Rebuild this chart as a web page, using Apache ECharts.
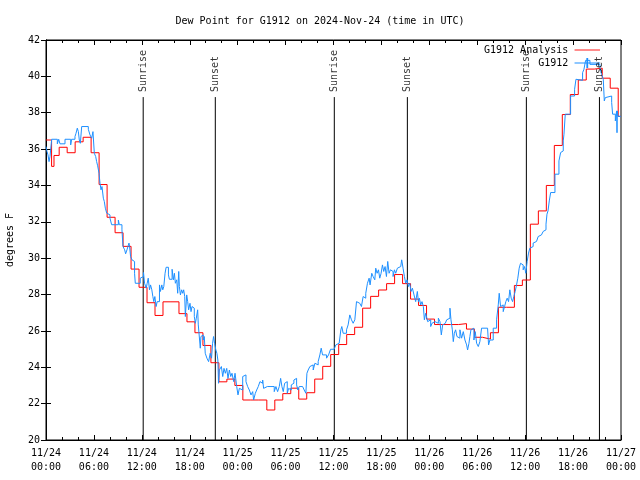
<!DOCTYPE html>
<html><head><meta charset="utf-8">
<script src="https://cdn.jsdelivr.net/npm/echarts@6/dist/echarts.min.js"></script>
<style>html,body{margin:0;padding:0;background:#fff}#c{width:640px;height:480px}</style>
</head><body><div id="c"></div>
<script>
// hours since 2024-11-24 00:00 UTC
const xTickLabels = ['11/24\n00:00','11/24\n06:00','11/24\n12:00','11/24\n18:00','11/25\n00:00','11/25\n06:00','11/25\n12:00','11/25\n18:00','11/26\n00:00','11/26\n06:00','11/26\n12:00','11/26\n18:00','11/27\n00:00'];
const sunTimes = [12.17, 21.2, 36.1, 45.25, 60.15, 69.3];
const sunNames = ['Sunrise','Sunset','Sunrise','Sunset','Sunrise','Sunset'];
const sunLineTop = 38.86;

const analysisHours = [0,0.7,1.0,1.65,2.65,3.65,4.65,5.65,6.65,7.65,8.65,9.65,10.65,11.65,12.65,13.65,14.65,15.65,16.65,17.65,18.65,19.65,20.65,21.65,22.65,23.65,24.65,25.65,26.65,27.65,28.65,29.65,30.65,31.65,32.65,33.65,34.65,35.65,36.65,37.65,38.65,39.65,40.65,41.65,42.65,43.65,44.65,45.65,46.65,47.65,48.65,49.65,50.65,51.65,52.65,53.65,54.65,55.65,56.65,57.65,58.65,59.65,60.65,61.65,62.65,63.65,64.65,65.65,66.65,67.65,68.65,69.65,70.65,71.65,72];
const analysisValues = [36.5,35.05,35.65,36.1,35.8,36.4,36.65,35.8,34.05,32.25,31.4,30.65,29.4,28.4,27.55,26.85,27.6,27.6,26.95,26.5,25.9,25.2,24.25,23.2,23.35,23.0,22.2,22.2,22.2,21.65,22.2,22.55,22.85,22.25,22.6,23.35,24.05,24.7,25.25,25.8,26.2,27.25,27.9,28.25,28.6,29.1,28.6,27.75,27.4,26.65,26.35,26.35,26.35,26.4,26.1,25.65,25.55,25.9,27.3,27.3,28.5,28.8,31.87,32.6,34.0,36.2,37.9,39.0,39.8,40.4,40.45,39.9,39.35,37.8,37.8];

const obsHours = [0,0.13,0.25,0.38,0.5,0.71,1.42,1.59,1.75,2.38,3.09,3.21,3.63,3.76,3.92,4.05,4.17,4.3,4.47,5.3,5.51,5.72,5.88,6.05,6.22,6.34,6.47,6.64,6.76,6.89,7.01,7.18,7.3,7.43,7.6,7.8,8.01,8.22,9.06,9.18,
9.51,9.64,9.85,9.97,10.14,10.26,10.39,10.47,10.59,10.76,10.97,11.09,11.18,11.8,11.92,12.05,12.21,12.34,12.55,12.67,12.8,12.96,13.09,13.25,13.38,13.5,13.63,13.79,13.92,14.21,14.33,14.5,14.62,14.75,14.91,15.04,15.33,15.45,15.79,15.95,16.08,16.2,16.37,16.49,16.62,16.7,16.83,16.99,17.12,17.24,17.37,17.45,17.62,17.74,17.86,18.03,18.16,18.28,18.45,18.57,18.7,18.82,18.99,19.07,19.19,19.32,19.4,19.53,19.69,19.82,19.94,20.02,20.15,20.36,20.44,20.56,20.73,20.86,20.98,21.11,21.27,21.4,21.52,21.6,
21.71,21.79,21.96,22.13,22.29,22.46,22.63,22.79,22.96,23.13,23.29,23.5,23.67,23.88,24.04,24.21,24.42,24.63,24.83,25.04,25.25,25.46,25.67,25.88,26.0,26.21,26.38,26.58,26.79,26.96,27.13,27.25,27.46,27.71,27.96,28.17,28.38,28.58,28.79,29.0,29.21,29.38,29.54,29.71,29.88,30.04,30.21,30.38,30.54,30.71,30.88,31.04,31.21,31.38,31.54,31.71,31.92,32.13,32.33,32.54,32.67,32.83,33.04,33.25,33.46,33.67,33.88,34.08,34.29,34.46,34.63,34.88,35.13,35.38,35.63,35.88,36.08,36.29,36.5,36.71,36.92,37.04,37.21,37.42,37.63,37.83,38.04,38.25,38.46,38.67,38.88,39.08,39.29,39.5,39.71,39.92,40.04,40.25,40.46,40.58,40.79,40.96,41.17,41.29,41.46,41.63,41.79,41.96,42.13,42.29,42.46,42.63,42.79,42.96,43.13,43.29,43.46,43.63,43.79,44.0,44.21,44.42,44.54,44.71,44.88,45.04,45.21,45.38,45.54,45.71,45.88,46.08,46.29,46.5,
46.63,46.75,46.92,47.08,47.25,47.38,47.54,47.67,47.79,48.0,48.17,48.33,48.5,48.71,48.92,49.13,49.33,49.5,49.67,49.83,50.0,50.17,50.38,50.58,50.71,50.88,51.0,51.13,51.29,51.46,51.63,51.83,52.04,52.25,52.46,52.67,52.79,52.96,53.08,53.21,53.38,53.58,53.75,53.92,54.13,54.33,54.54,55.29,55.42,55.58,56.0,56.42,56.63,56.75,56.92,57.08,57.25,57.42,57.58,57.75,57.92,58.08,58.25,58.42,58.58,58.75,58.92,59.08,59.25,59.42,59.58,59.75,59.92,60.08,60.25,60.42,60.58,60.79,61.0,61.21,61.42,61.63,61.83,62.04,62.25,62.46,
62.61,62.73,62.86,63.02,63.19,63.73,64.23,64.44,64.65,64.77,64.86,65.02,65.69,66.19,66.36,66.52,67.19,67.36,67.57,68.11,69.37,69.57,69.78,69.91,70.03,70.12,70.83,70.95,71.29,71.45,71.5,71.54,71.62,72];
const obsValues = [36.14,35.86,35.68,35.31,35.59,36.54,36.29,36.54,36.29,36.54,36.23,36.54,36.69,36.87,37.15,36.96,36.5,36.32,37.24,37.09,36.78,36.6,36.96,35.77,35.59,35.31,35.08,34.67,34.12,33.76,33.94,33.3,33.12,32.75,32.48,32.38,32.2,31.84,32.1,31.84,
31.56,30.64,30.46,30.24,30.46,30.55,30.83,30.64,30.09,29.91,29.82,29.17,28.62,28.9,28.81,28.99,29.21,28.62,28.35,28.62,28.9,28.26,28.53,28.26,27.89,27.61,27.89,27.34,27.61,28.53,28.17,28.53,28.26,28.44,29.17,29.5,29.08,28.84,29.39,28.81,29.17,28.62,28.81,28.07,29.27,28.44,27.98,28.26,28.07,28.26,27.89,26.79,27.98,27.61,27.16,27.52,27.06,27.34,27.25,26.79,26.42,26.7,27.16,26.33,26.42,25.05,25.69,25.78,25.5,25.69,24.77,24.68,24.5,24.31,24.22,24.77,24.5,25.32,25.69,25.32,24.95,24.77,24.4,23.12,
23.85,23.76,24.04,23.49,23.94,23.67,23.94,23.39,23.85,23.49,23.67,23.21,23.67,22.94,22.48,22.84,22.75,23.49,23.58,23.21,22.94,22.75,22.48,22.66,22.2,22.57,22.75,22.94,23.21,23.12,23.3,22.84,22.94,23.03,22.94,23.03,22.94,22.66,22.94,22.66,22.94,23.39,22.94,22.66,23.12,23.21,22.57,22.84,22.75,23.03,23.12,23.3,23.39,23.03,22.75,22.94,22.94,22.84,22.75,22.57,23.67,23.85,24.04,24.13,23.85,24.22,24.13,24.31,24.68,25.05,24.68,24.68,24.5,24.68,24.99,24.99,25.05,25.23,25.32,25.23,26.06,26.24,25.87,25.87,26.06,26.33,26.88,26.61,26.42,26.61,27.61,27.52,27.61,27.34,27.89,27.8,28.07,28.62,28.9,28.53,29.17,28.99,28.81,29.45,29.17,29.36,28.9,29.17,29.63,29.27,29.54,28.99,29.82,29.17,29.36,29.27,28.99,29.36,29.17,29.45,29.54,29.63,29.91,29.45,28.99,28.62,28.81,28.44,28.62,28.17,28.35,27.98,27.61,28.17,
27.61,27.8,27.43,27.61,27.34,26.61,26.97,26.88,26.51,26.61,26.24,26.42,26.51,26.61,26.42,26.7,26.51,25.78,26.33,26.42,26.51,26.61,26.7,27.25,26.61,26.06,25.41,25.87,26.06,25.69,25.6,26.06,25.6,25.96,25.5,25.23,24.95,25.32,25.69,26.06,26.15,25.5,25.96,25.32,25.14,25.41,26.15,26.06,25.23,25.5,26.15,26.61,27.43,28.07,27.34,27.43,27.06,27.34,27.61,27.8,27.61,28.26,27.8,27.61,27.89,28.17,28.53,28.9,29.45,29.72,29.63,29.36,29.54,29.17,29.82,30.28,30.55,30.64,30.83,30.92,31.01,31.19,31.28,31.38,31.47,31.56,
31.87,32.42,32.6,33.15,33.61,34.62,35.35,35.81,35.9,36.45,36.82,37.92,38.92,39.29,39.84,39.78,40.2,40.39,40.88,40.66,40.48,40.11,39.84,38.65,38.83,38.92,38.56,37.92,37.55,38.1,36.9,38.1,37.8,37.8];

function pairs(xs, ys){ return xs.map((x,i)=>[x, ys[i]]); }

const FONT = 'DejaVu Sans Mono';
const chart = echarts.init(document.getElementById('c'), null, {renderer:'canvas'});

const series = [
  { name:'G1912 Analysis', type:'line', step:'end', data: pairs(analysisHours, analysisValues),
    showSymbol:false, symbol:'none', lineStyle:{color:'#ff0000', width:1}, itemStyle:{color:'#ff0000'}, z:3 },
  { name:'G1912', type:'line', step:'end', data: pairs(obsHours, obsValues),
    showSymbol:false, symbol:'none', lineStyle:{color:'#1e90ff', width:1}, itemStyle:{color:'#1e90ff'}, z:4 }
];
sunTimes.forEach((t,i)=>{
  series.push({ type:'line', data:[[t,20],[t,sunLineTop]], showSymbol:false, symbol:'none',
    lineStyle:{color:'#000', width:1}, z:2, silent:true });
  series.push({ type:'scatter', data:[[t,sunLineTop]], symbolSize:0, silent:true, z:5,
    label:{show:true, formatter:sunNames[i], rotate:90, position:'top', distance:5,
      align:'left', verticalAlign:'middle', fontFamily:FONT, fontSize:10, color:'#000'} });
});

const axisCommonX = { type:'value', min:0, max:72, interval:6,
  axisLine:{show:true, lineStyle:{color:'#000', width:1}}, splitLine:{show:false},
  axisTick:{show:true, inside:true, length:5, lineStyle:{color:'#000'}},
  minorTick:{show:true, splitNumber:3, length:3, lineStyle:{color:'#000'}} };
const axisCommonY = { type:'value', min:20, max:42, interval:2,
  axisLine:{show:true, lineStyle:{color:'#000', width:1}}, splitLine:{show:false},
  axisTick:{show:true, inside:true, length:5, lineStyle:{color:'#000'}} };

chart.setOption({
  animation:false,
  backgroundColor:'#fff',
  title:{ text:'Dew Point for G1912 on 2024-Nov-24 (time in UTC)', left:'center', top:11,
    textStyle:{fontFamily:FONT, fontSize:10, fontWeight:'normal', color:'#000'} },
  legend:{ orient:'vertical', right:35, top:40, align:'right', itemWidth:28, itemHeight:10, itemGap:3,
    textStyle:{fontFamily:FONT, fontSize:10, color:'#000'},
    data:[
      {name:'G1912 Analysis', icon:'path://M0,-5 M0,0H28V1H0Z M0,6'},
      {name:'G1912', icon:'path://M0,0H13V-5H15V0H28V1H15V6H13V1H0Z'}
    ] },
  grid:{ left:46, right:19, top:40, bottom:40, show:true, borderColor:'#000', borderWidth:1,
    backgroundColor:'transparent', containLabel:false, outerBoundsMode:'none' },
  xAxis:[
    Object.assign({}, axisCommonX, { position:'bottom',
      axisLabel:{ fontFamily:FONT, fontSize:10, color:'#000', margin:6, lineHeight:14,
        formatter:(v)=> xTickLabels[Math.round(v/6)] } }),
    Object.assign({}, axisCommonX, { position:'top', axisLabel:{show:false} })
  ],
  yAxis:[
    Object.assign({}, axisCommonY, { position:'left', name:'degrees F', nameLocation:'middle', nameGap:31,
      nameRotate:90, nameTextStyle:{fontFamily:FONT, fontSize:10, color:'#000'},
      axisLabel:{ fontFamily:FONT, fontSize:10, color:'#000', margin:6 } }),
    Object.assign({}, axisCommonY, { position:'right', axisLabel:{show:false} })
  ],
  series: series
});
</script></body></html>
